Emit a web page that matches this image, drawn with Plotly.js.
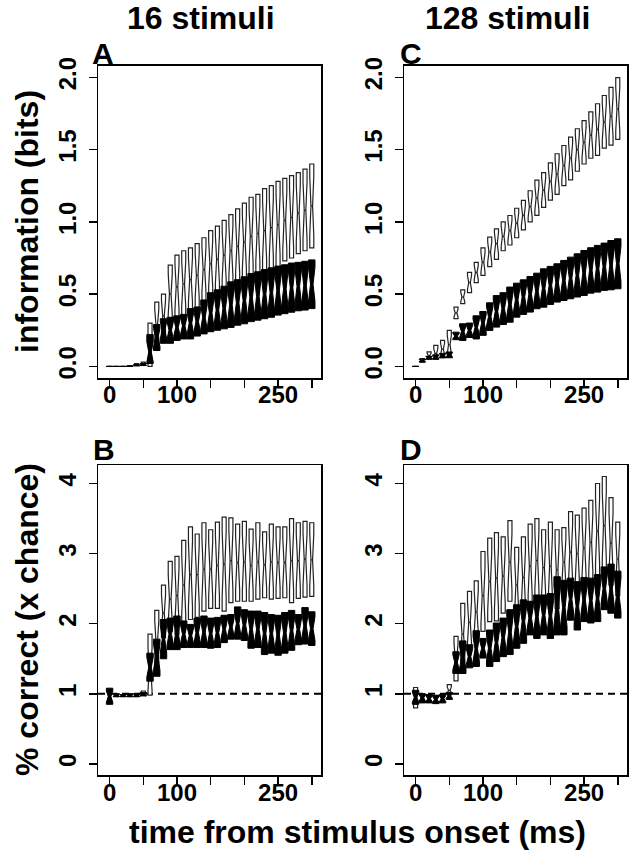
<!DOCTYPE html>
<html>
<head>
<meta charset="utf-8">
<script src="https://cdn.plot.ly/plotly-3.0.1.min.js"></script>
<style>
html,body{margin:0;padding:0;background:#fff;}
#chart{width:644px;height:863px;}
</style>
</head>
<body>
<div id="chart"></div>
<script>
// ---------------- data ----------------
const TIME_MS = [0,10,20,30,40,50,60,70,80,90,100,110,120,130,140,150,160,170,180,190,200,210,220,230,240,250,260,270,280,290,300];

const X_TICK_VALS = [0,50,100,150,200,250,300];
const X_TICK_TEXT = ['0','','100','','','250',''];
const INFO_TICK_VALS = [0,0.5,1,1.5,2];
const INFO_TICK_TEXT = ['0.0','0.5','1.0','1.5','2.0'];
const PC_TICK_VALS = [0,1,2,3,4];
const PC_TICK_TEXT = ['0','1','2','3','4'];

const COL_TITLES = ['16 stimuli','128 stimuli'];
const PANEL_LETTERS = ['A','B','C','D'];
const Y_TITLES = ['information (bits)','% correct (x chance)'];
const X_TITLE = 'time from stimulus onset (ms)';

// Panel A: information, 16 stimuli
const A_open_q1  = [0,0,0,0,0.005,0.01,0.0,0.15,0.20,0.30,0.33,0.35,0.38,0.41,0.45,0.48,0.50,0.53,0.55,0.57,0.60,0.63,0.645,0.66,0.675,0.69,0.73,0.75,0.78,0.80,0.82];
const A_open_med = [0,0,0,0.002,0.012,0.02,0.12,0.29,0.35,0.50,0.55,0.57,0.60,0.63,0.67,0.71,0.74,0.77,0.80,0.83,0.86,0.90,0.92,0.94,0.96,0.98,1.01,1.03,1.06,1.08,1.11];
const A_open_q3  = [0,0,0,0.005,0.02,0.03,0.30,0.445,0.50,0.70,0.77,0.80,0.82,0.85,0.89,0.94,0.97,1.01,1.05,1.09,1.13,1.17,1.19,1.23,1.25,1.28,1.30,1.32,1.34,1.365,1.40];
const A_fill_q1  = [0,0,0,0,0.004,0.006,0.02,0.11,0.16,0.16,0.18,0.19,0.19,0.21,0.225,0.24,0.25,0.26,0.27,0.285,0.295,0.31,0.32,0.33,0.34,0.355,0.365,0.375,0.385,0.39,0.40];
const A_fill_med = [0,0,0,0.001,0.008,0.012,0.10,0.20,0.25,0.25,0.27,0.28,0.30,0.31,0.34,0.37,0.39,0.40,0.425,0.44,0.455,0.475,0.485,0.50,0.51,0.525,0.535,0.545,0.553,0.56,0.568];
const A_fill_q3  = [0,0,0,0.002,0.012,0.02,0.22,0.29,0.33,0.34,0.35,0.36,0.40,0.41,0.46,0.51,0.53,0.555,0.585,0.60,0.62,0.643,0.655,0.67,0.682,0.694,0.703,0.715,0.72,0.727,0.737];

// Panel C: information, 128 stimuli
const C_open_q1  = [0,0.03,0.05,0.05,0.06,0.07,0.33,0.434,0.51,0.58,0.63,0.69,0.74,0.80,0.84,0.89,0.945,1.0,1.045,1.10,1.15,1.19,1.25,1.29,1.35,1.40,1.44,1.46,1.51,1.53,1.57];
const C_open_med = [0,0.04,0.075,0.09,0.12,0.15,0.37,0.48,0.58,0.65,0.72,0.79,0.85,0.90,0.94,0.99,1.045,1.105,1.165,1.22,1.28,1.33,1.39,1.44,1.50,1.55,1.60,1.64,1.69,1.73,1.78];
const C_open_q3  = [0,0.055,0.10,0.145,0.18,0.25,0.41,0.53,0.65,0.72,0.82,0.894,0.952,1.0,1.044,1.094,1.148,1.215,1.288,1.34,1.408,1.471,1.528,1.586,1.644,1.70,1.76,1.817,1.874,1.93,1.997];
const C_fill_q1  = [0,0.03,0.05,0.05,0.06,0.06,0.185,0.18,0.20,0.19,0.215,0.249,0.272,0.29,0.306,0.341,0.36,0.376,0.399,0.41,0.429,0.445,0.456,0.468,0.48,0.491,0.507,0.514,0.526,0.53,0.537];
const C_fill_med = [0,0.04,0.06,0.065,0.075,0.08,0.21,0.24,0.25,0.27,0.30,0.345,0.38,0.40,0.43,0.46,0.48,0.50,0.52,0.54,0.56,0.58,0.595,0.61,0.63,0.645,0.665,0.675,0.69,0.70,0.71];
const C_fill_q3  = [0,0.05,0.07,0.08,0.09,0.10,0.237,0.295,0.30,0.35,0.38,0.44,0.49,0.51,0.549,0.576,0.599,0.622,0.645,0.675,0.692,0.71,0.733,0.756,0.779,0.802,0.821,0.837,0.853,0.871,0.883];

// Panel B: % correct, 16 stimuli
const B_open_q1  = [0.88,0.96,0.96,0.96,0.96,0.98,0.98,1.37,1.80,1.89,1.85,1.97,2.06,2.09,2.18,2.22,2.22,2.18,2.30,2.32,2.32,2.32,2.35,2.37,2.35,2.36,2.37,2.30,2.36,2.38,2.39];
const B_open_med = [0.97,0.975,0.975,0.98,0.98,1.0,1.35,1.75,2.15,2.35,2.40,2.55,2.70,2.70,2.78,2.78,2.83,2.85,2.90,2.87,2.88,2.83,2.88,2.84,2.88,2.87,2.87,2.90,2.90,2.92,2.91];
const B_open_q3  = [1.06,1.0,0.99,1.0,1.0,1.04,1.85,2.19,2.55,2.89,2.96,3.19,3.38,3.28,3.44,3.34,3.45,3.52,3.51,3.42,3.46,3.35,3.44,3.31,3.42,3.38,3.38,3.50,3.44,3.46,3.44];
const B_fill_q1  = [0.85,0.96,0.96,0.96,0.96,0.97,1.18,1.25,1.50,1.63,1.63,1.66,1.66,1.66,1.66,1.65,1.66,1.73,1.78,1.78,1.76,1.65,1.66,1.56,1.58,1.55,1.58,1.62,1.70,1.71,1.69];
const B_fill_med = [0.96,0.98,0.975,0.98,0.98,0.995,1.38,1.52,1.78,1.85,1.87,1.85,1.83,1.87,1.88,1.86,1.87,1.92,1.95,2.0,1.98,1.92,1.92,1.86,1.86,1.84,1.87,1.90,1.92,1.97,1.93];
const B_fill_q3  = [1.08,1.00,0.99,1.00,1.00,1.02,1.58,1.78,2.06,2.08,2.11,2.04,1.99,2.08,2.11,2.08,2.09,2.12,2.13,2.24,2.20,2.18,2.18,2.16,2.13,2.12,2.16,2.19,2.13,2.23,2.17];

// Panel D: % correct, 128 stimuli
const D_open_q1  = [0.80,0.90,0.88,0.87,0.88,0.99,1.185,1.46,1.60,1.75,1.89,2.03,2.04,2.15,2.32,2.03,2.13,2.27,2.32,2.27,2.22,2.22,2.41,2.46,2.48,2.53,2.60,2.70,2.74,2.55,2.40];
const D_open_med = [0.93,0.95,0.93,0.92,0.93,1.05,1.50,1.85,2.02,2.17,2.40,2.60,2.65,2.68,2.88,2.55,2.66,2.82,2.90,2.80,2.82,2.77,2.88,3.02,3.00,3.08,3.16,3.32,3.40,3.15,2.92];
const D_open_q3  = [1.09,1.00,0.98,0.97,0.99,1.13,1.82,2.29,2.46,2.61,3.03,3.22,3.30,3.24,3.47,3.09,3.24,3.42,3.50,3.34,3.45,3.34,3.37,3.60,3.55,3.65,3.76,4.00,4.10,3.80,3.45];
const D_fill_q1  = [0.85,0.87,0.87,0.86,0.87,0.92,1.29,1.29,1.37,1.39,1.51,1.39,1.46,1.53,1.56,1.65,1.72,1.84,1.79,1.84,1.79,1.84,1.84,2.05,1.91,2.03,2.01,2.03,2.20,2.15,2.08];
const D_fill_med = [0.95,0.94,0.93,0.92,0.93,0.97,1.45,1.52,1.53,1.64,1.65,1.65,1.73,1.80,1.88,1.96,2.03,2.08,2.10,2.12,2.11,2.25,2.23,2.35,2.25,2.34,2.33,2.36,2.50,2.50,2.41];
const D_fill_q3  = [1.05,1.00,0.99,0.98,0.99,1.02,1.60,1.755,1.70,1.90,1.79,1.91,2.01,2.08,2.20,2.27,2.34,2.32,2.41,2.41,2.43,2.67,2.62,2.65,2.60,2.66,2.65,2.70,2.81,2.85,2.75];

// ---------------- drawing ----------------
const W = 644, H = 863;
const FONT = 'Liberation Sans, Arial, Helvetica, sans-serif';
const NOTCH_FRAC = 0.35;
const px = x => x / W;
const py = y => 1 - y / H;

function boxTrace(xa, ya, q1, med, q3, filled) {
  return {
    type: 'box', xaxis: xa, yaxis: ya,
    x: TIME_MS, q1: q1, median: med, q3: q3,
    lowerfence: q1, upperfence: q3,
    notched: true, notchwidth: 0.3,
    notchspan: q1.map((v, i) => NOTCH_FRAC * (q3[i] - v)),
    width: filled ? 9.5 : 6,
    whiskerwidth: 0,
    fillcolor: filled ? '#000' : '#fff',
    line: {color: filled ? '#000' : '#222', width: filled ? 1 : 1.2},
    boxpoints: false, hoverinfo: 'skip', showlegend: false
  };
}

const data = [
  boxTrace('x', 'y', A_open_q1, A_open_med, A_open_q3, false),
  boxTrace('x', 'y', A_fill_q1, A_fill_med, A_fill_q3, true),
  boxTrace('x2', 'y2', B_open_q1, B_open_med, B_open_q3, false),
  boxTrace('x2', 'y2', B_fill_q1, B_fill_med, B_fill_q3, true),
  boxTrace('x3', 'y3', C_open_q1, C_open_med, C_open_q3, false),
  boxTrace('x3', 'y3', C_fill_q1, C_fill_med, C_fill_q3, true),
  boxTrace('x4', 'y4', D_open_q1, D_open_med, D_open_q3, false),
  boxTrace('x4', 'y4', D_fill_q1, D_fill_med, D_fill_q3, true)
];

const tickFont = {family: FONT, size: 24, color: '#000', weight: 'bold'};
function xAxis(x0, x1, anchor) {
  return {
    domain: [px(x0), px(x1)], range: [-17.2, 313.7], anchor: anchor,
    tickmode: 'array', tickvals: X_TICK_VALS, ticktext: X_TICK_TEXT,
    ticks: 'outside', ticklen: 8, tickwidth: 1.5, tickcolor: '#000',
    ticklabelstandoff: -13,
    showline: true, mirror: true, linecolor: '#000', linewidth: 1.5,
    showgrid: false, zeroline: false, tickfont: tickFont, fixedrange: true
  };
}
function yAxis(y0, y1, anchor, range, vals, text) {
  return {
    domain: [py(y1), py(y0)], range: range, anchor: anchor,
    tickmode: 'array', tickvals: vals, ticktext: text, tickangle: -90,
    ticks: 'outside', ticklen: 8, tickwidth: 1.5, tickcolor: '#000',
    ticklabelstandoff: 3,
    showline: true, mirror: true, linecolor: '#000', linewidth: 1.5,
    showgrid: false, zeroline: false, tickfont: tickFont, fixedrange: true
  };
}

const LEFT = [98, 321], RIGHT = [404, 627];
const TOP = [65.7, 378], BOTTOM = [465, 775.4];
const INFO_RANGE = [-0.08, 2.08], PC_RANGE = [-0.164, 4.264];

const bold = s => ({family: FONT, size: s, color: '#000', weight: 'bold'});
const annotations = [
  {text: COL_TITLES[0], x: px(201), y: py(18), xanchor: 'center', yanchor: 'middle', font: bold(32)},
  {text: COL_TITLES[1], x: px(507), y: py(18), xanchor: 'center', yanchor: 'middle', font: bold(32)},
  {text: PANEL_LETTERS[0], x: px(90), y: py(53), xanchor: 'left', yanchor: 'middle', font: bold(30)},
  {text: PANEL_LETTERS[1], x: px(91), y: py(449), xanchor: 'left', yanchor: 'middle', font: bold(30)},
  {text: PANEL_LETTERS[2], x: px(398), y: py(53), xanchor: 'left', yanchor: 'middle', font: bold(30)},
  {text: PANEL_LETTERS[3], x: px(398), y: py(449), xanchor: 'left', yanchor: 'middle', font: bold(30)},
  {text: Y_TITLES[0], x: px(27), y: py(222), textangle: -90, xanchor: 'center', yanchor: 'middle', font: bold(32)},
  {text: Y_TITLES[1], x: px(27), y: py(620), textangle: -90, xanchor: 'center', yanchor: 'middle', font: bold(32)},
  {text: X_TITLE, x: px(357), y: py(832), xanchor: 'center', yanchor: 'middle', font: bold(32)}
].map(a => Object.assign({xref: 'paper', yref: 'paper', showarrow: false}, a));

const dashLine = (xa, ya) => ({
  type: 'line', xref: xa + ' domain', yref: ya, x0: 0, x1: 1, y0: 1, y1: 1,
  line: {color: '#000', width: 2, dash: '7px,5px'}, layer: 'below'
});

const layout = {
  width: W, height: H,
  margin: {l: 0, r: 0, t: 0, b: 0},
  paper_bgcolor: '#fff', plot_bgcolor: '#fff',
  boxmode: 'overlay', showlegend: false,
  font: {family: FONT, color: '#000'},
  xaxis:  xAxis(LEFT[0], LEFT[1], 'y'),
  yaxis:  yAxis(TOP[0], TOP[1], 'x', INFO_RANGE, INFO_TICK_VALS, INFO_TICK_TEXT),
  xaxis2: xAxis(LEFT[0], LEFT[1], 'y2'),
  yaxis2: yAxis(BOTTOM[0], BOTTOM[1], 'x2', PC_RANGE, PC_TICK_VALS, PC_TICK_TEXT),
  xaxis3: xAxis(RIGHT[0], RIGHT[1], 'y3'),
  yaxis3: yAxis(TOP[0], TOP[1], 'x3', INFO_RANGE, INFO_TICK_VALS, INFO_TICK_TEXT),
  xaxis4: xAxis(RIGHT[0], RIGHT[1], 'y4'),
  yaxis4: yAxis(BOTTOM[0], BOTTOM[1], 'x4', PC_RANGE, PC_TICK_VALS, PC_TICK_TEXT),
  annotations: annotations,
  shapes: [dashLine('x2', 'y2'), dashLine('x4', 'y4')]
};

Plotly.newPlot('chart', data, layout, {staticPlot: true, displayModeBar: false});
</script>
</body>
</html>
